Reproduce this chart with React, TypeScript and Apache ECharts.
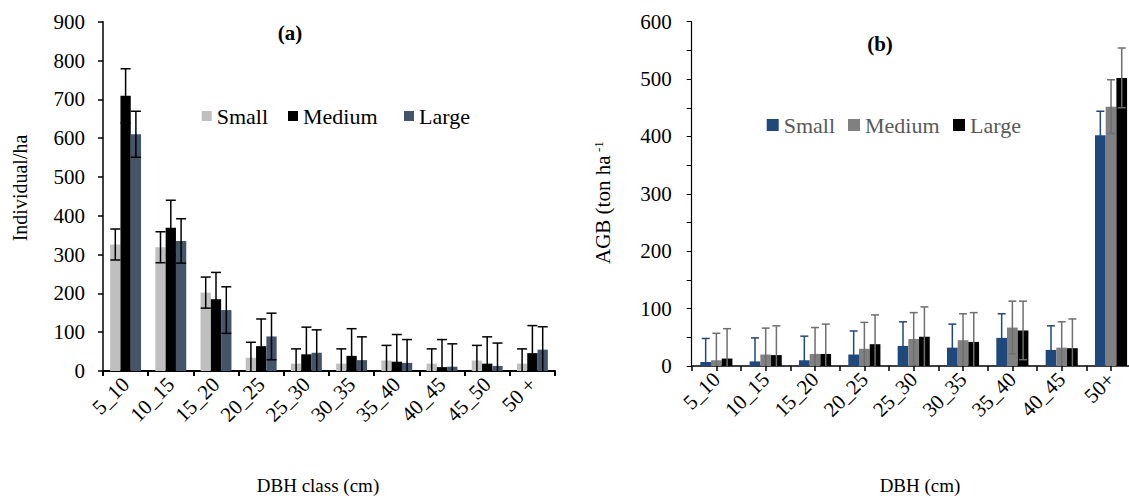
import React, { useEffect, useRef } from "react";
import * as echarts from "echarts";

const leftCategories = ["5_10", "10_15", "15_20", "20_25", "25_30", "30_35", "35_40", "40_45", "45_50", "50 +"];
const smallInd = [326, 319, 202, 34, 19, 19, 27, 19, 27, 19];
const smallIndErr = [40, 40, 40, 40, 38, 38, 39, 38, 39, 38];
const mediumInd = [709, 369, 185, 64, 43, 39, 24, 10, 19, 46];
const mediumIndErr = [70, 71, 69, 70, 70, 70, 70, 71, 69, 71];
const largeInd = [610, 335, 157, 89, 47, 28, 21, 11, 13, 55];
const largeIndErr = [59, 57, 60, 60, 59, 60, 60, 59, 59, 59];

const rightCategories = ["5_10", "10_15", "15_20", "20_25", "25_30", "30_35", "35_40", "40_45", "50+"];
const smallAgb = [7, 8, 10, 20, 35, 32, 49, 28, 402];
const smallAgbErr = [41, 41, 42, 41, 42, 41, 42, 42, 42];
const mediumAgb = [10, 20, 21, 30, 47, 45, 67, 32, 452];
const mediumAgbErr = [47, 46, 46, 46, 46, 46, 46, 45, 47];
const largeAgb = [13, 19, 21, 38, 51, 42, 62, 31, 502];
const largeAgbErr = [52, 51, 52, 51, 52, 51, 51, 51, 52];

const leftSeriesNames = ["Small", "Medium", "Large"];
const rightSeriesNames = ["Small ", "Medium ", "Large "];

const FONT = "'Liberation Serif', 'Times New Roman', serif";

function errSeries(name: string, vals: number[], errs: number[], axisIdx: number, offset: number, color: string, cap: number) {
  return {
    type: "custom",
    name: name + "_err",
    xAxisIndex: axisIdx,
    yAxisIndex: axisIdx,
    z: 10,
    clip: true,
    silent: true,
    encode: { x: 0, y: 1 },
    data: vals.map((v, i) => [i, v, errs[i]]),
    renderItem: (params: any, api: any) => {
      const ci = api.value(0);
      const v = api.value(1);
      const e = api.value(2);
      const lowV = v - e;
      const top = api.coord([ci, v + e]);
      const bot = api.coord([ci, Math.max(lowV, 0)]);
      const x = top[0] + offset;
      const style = { stroke: color, lineWidth: 1.5 };
      const children: any[] = [
        { type: "line", shape: { x1: x, y1: top[1], x2: x, y2: bot[1] }, style },
        { type: "line", shape: { x1: x - cap / 2, y1: top[1], x2: x + cap / 2, y2: top[1] }, style },
      ];
      if (lowV > 0) {
        children.push({ type: "line", shape: { x1: x - cap / 2, y1: bot[1], x2: x + cap / 2, y2: bot[1] }, style });
      }
      return { type: "group", children };
    },
  };
}

function legendItem(name: string, left: number, top: number, size: number, color: string, formatter?: (n: string) => string) {
  return {
    data: [{ name }],
    left,
    top,
    padding: 0,
    itemWidth: size,
    itemHeight: size,
    icon: "rect",
    selectedMode: false,
    textStyle: { fontFamily: FONT, fontSize: 22, color },
    ...(formatter ? { formatter } : {}),
  };
}

export default function App() {
  const ref = useRef<HTMLDivElement>(null);
  useEffect(() => {
    if (!ref.current) return;
    const chart = echarts.init(ref.current, null, { renderer: "svg" });
    const LW = 10.3;
    const RW = 10.7;
    const leftColors = ["#BFBFBF", "#000000", "#44546A"];
    const rightColors = ["#1F497D", "#808080", "#000000"];
    const rightErrColors = ["#1F497D", "#6E6E6E", "#6E6E6E"];
    const tickLabel = { fontFamily: FONT, fontSize: 21, color: "#000" };
    const trim = (n: string) => n.trim();
    const option: any = {
      animation: false,
      backgroundColor: "#fff",
      textStyle: { fontFamily: FONT },
      grid: [
        { left: 103, top: 21.7, width: 452, height: 349.3 },
        { left: 691.7, top: 21.7, width: 444, height: 344.3 },
      ],
      legend: [
        legendItem(leftSeriesNames[0], 201.7, 105, 10, "#000"),
        legendItem(leftSeriesNames[1], 288, 105, 10, "#000"),
        legendItem(leftSeriesNames[2], 404, 105, 10, "#000"),
        legendItem(rightSeriesNames[0], 766.7, 114, 12, "#595959", trim),
        legendItem(rightSeriesNames[1], 848, 114, 12, "#595959", trim),
        legendItem(rightSeriesNames[2], 953, 114, 12, "#595959", trim),
      ],
      xAxis: [
        {
          type: "category",
          gridIndex: 0,
          data: leftCategories,
          axisLine: { lineStyle: { color: "#000", width: 2 } },
          axisTick: { show: true, length: 5, lineStyle: { color: "#000", width: 2 } },
          axisLabel: { ...tickLabel, rotate: 45, margin: 10, interval: 0 },
        },
        {
          type: "category",
          gridIndex: 1,
          position: "bottom",
          data: rightCategories,
          axisLine: { lineStyle: { color: "#000", width: 1.5 } },
          axisTick: { show: false },
          axisLabel: { ...tickLabel, rotate: 45, margin: 10, interval: 0 },
        },
        {
          type: "category",
          gridIndex: 1,
          position: "bottom",
          offset: 0,
          data: Array.from({ length: rightCategories.length * 2 }, (_, i) => "t" + i),
          axisLine: { show: false },
          axisTick: { show: true, length: 5, interval: 0, lineStyle: { color: "#000", width: 1.5 } },
          axisLabel: { show: false },
        },
      ],
      yAxis: [
        {
          type: "value",
          gridIndex: 0,
          min: 0,
          max: 900,
          interval: 100,
          splitLine: { show: false },
          axisLine: { show: true, lineStyle: { color: "#000", width: 1.5 } },
          axisTick: { show: true, length: 5, lineStyle: { color: "#000", width: 1.5 } },
          axisLabel: { ...tickLabel, margin: 18 },
        },
        {
          type: "value",
          gridIndex: 1,
          min: 0,
          max: 600,
          interval: 100,
          splitLine: { show: false },
          minorTick: { show: true, splitNumber: 2, length: 5, lineStyle: { color: "#000", width: 1 } },
          minorSplitLine: { show: false },
          axisLine: { show: true, lineStyle: { color: "#000", width: 1.2 } },
          axisTick: { show: true, length: 5, lineStyle: { color: "#000", width: 1 } },
          axisLabel: { ...tickLabel, margin: 20 },
        },
      ],
      series: [
        { type: "bar", name: leftSeriesNames[0], xAxisIndex: 0, yAxisIndex: 0, data: smallInd, barWidth: LW, barGap: "0%", itemStyle: { color: leftColors[0] } },
        { type: "bar", name: leftSeriesNames[1], xAxisIndex: 0, yAxisIndex: 0, data: mediumInd, barWidth: LW, barGap: "0%", itemStyle: { color: leftColors[1] } },
        { type: "bar", name: leftSeriesNames[2], xAxisIndex: 0, yAxisIndex: 0, data: largeInd, barWidth: LW, barGap: "0%", itemStyle: { color: leftColors[2] } },
        errSeries("Small", smallInd, smallIndErr, 0, -LW, "#000", 10),
        errSeries("Medium", mediumInd, mediumIndErr, 0, 0, "#000", 10),
        errSeries("Large", largeInd, largeIndErr, 0, LW, "#000", 10),
        { type: "bar", name: rightSeriesNames[0], xAxisIndex: 1, yAxisIndex: 1, data: smallAgb, barWidth: RW, barGap: "0%", itemStyle: { color: rightColors[0] } },
        { type: "bar", name: rightSeriesNames[1], xAxisIndex: 1, yAxisIndex: 1, data: mediumAgb, barWidth: RW, barGap: "0%", itemStyle: { color: rightColors[1] } },
        { type: "bar", name: rightSeriesNames[2], xAxisIndex: 1, yAxisIndex: 1, data: largeAgb, barWidth: RW, barGap: "0%", itemStyle: { color: rightColors[2] } },
        errSeries("Small ", smallAgb, smallAgbErr, 1, -RW, rightErrColors[0], 8),
        errSeries("Medium ", mediumAgb, mediumAgbErr, 1, 0, rightErrColors[1], 8),
        errSeries("Large ", largeAgb, largeAgbErr, 1, RW, rightErrColors[2], 8),
      ],
      graphic: [
        { type: "text", x: 290, y: 33, style: { text: "(a)", font: `bold 21px ${FONT}`, fill: "#000", align: "center", verticalAlign: "middle" } },
        { type: "text", x: 880, y: 44, style: { text: "(b)", font: `bold 21px ${FONT}`, fill: "#000", align: "center", verticalAlign: "middle" } },
        { type: "text", x: 318, y: 485, style: { text: "DBH class (cm)", font: `19px ${FONT}`, fill: "#000", align: "center", verticalAlign: "middle" } },
        { type: "text", x: 920, y: 485, style: { text: "DBH (cm)", font: `19px ${FONT}`, fill: "#000", align: "center", verticalAlign: "middle" } },
        { type: "text", x: 20, y: 188, rotation: Math.PI / 2, style: { text: "Individual/ha", font: `20px ${FONT}`, fill: "#000", align: "center", verticalAlign: "middle" } },
        { type: "text", x: 603, y: 264, rotation: Math.PI / 2, style: { text: "AGB (ton ha", font: `21px ${FONT}`, fill: "#000", align: "left", verticalAlign: "middle" } },
        { type: "text", x: 598, y: 152, rotation: Math.PI / 2, style: { text: "-1", font: `13px ${FONT}`, fill: "#000", align: "left", verticalAlign: "middle" } },
      ],
    };
    chart.setOption(option);
    return () => chart.dispose();
  }, []);
  return (
    <div style={{ position: "absolute", left: 0, top: 0, width: 1129, height: 499, overflow: "hidden" }}>
      <div ref={ref} style={{ width: 1145, height: 499 }} />
    </div>
  );
}
